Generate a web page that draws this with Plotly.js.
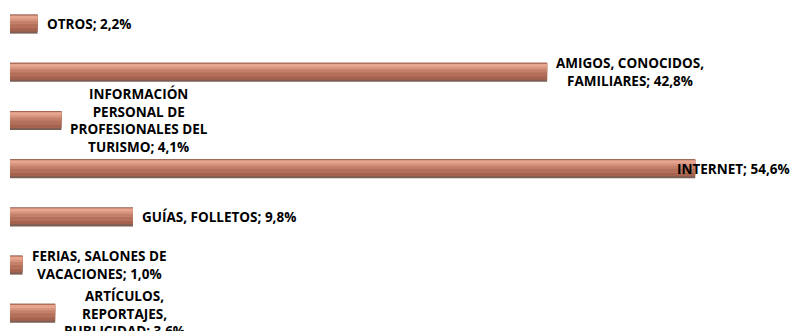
<!DOCTYPE html>
<html>
<head>
<meta charset="utf-8">
<script src="https://cdn.plot.ly/plotly-3.0.1.min.js"></script>
<style>html,body{margin:0;padding:0;background:#fff;}#chart{width:795px;height:331px;}</style>
</head>
<body>
<div id="chart"></div>
<script>
// Data (top to bottom)
const categories = [
  "OTROS",
  "AMIGOS, CONOCIDOS, FAMILIARES",
  "INFORMACIÓN PERSONAL DE PROFESIONALES DEL TURISMO",
  "INTERNET",
  "GUÍAS, FOLLETOS",
  "FERIAS, SALONES DE VACACIONES",
  "ARTÍCULOS, REPORTAJES, PUBLICIDAD"
];
const values = [2.2, 42.8, 4.1, 54.6, 9.8, 1.0, 3.6];
const labelLines = [
  ["OTROS; 2,2%"],
  ["AMIGOS, CONOCIDOS,", "FAMILIARES; 42,8%"],
  ["INFORMACIÓN", "PERSONAL DE", "PROFESIONALES DEL", "TURISMO; 4,1%"],
  ["INTERNET; 54,6%"],
  ["GUÍAS, FOLLETOS; 9,8%"],
  ["FERIAS, SALONES DE", "VACACIONES; 1,0%"],
  ["ARTÍCULOS,", "REPORTAJES,", "PUBLICIDAD; 3,6%"]
];

// Bevelled copper look: stacked overlay bands (fractions of bar thickness from top)
const H = 0.395;
const bands = [
  {from: 0.00, to: 1.00, color: "#7d5e55"},
  {from: 0.00, to: 0.89, color: "#a5634f"},
  {from: 0.04, to: 0.72, color: "#b5705b"},
  {from: 0.05, to: 0.50, color: "#c48069"},
  {from: 0.06, to: 0.34, color: "#d7937d"},
  {from: 0.07, to: 0.22, color: "#e6a58f"}
];
const traces = bands.map(b => ({
  type: "bar",
  orientation: "h",
  y: categories,
  x: values,
  offset: -H / 2 + b.from * H,
  width: (b.to - b.from) * H,
  marker: {color: b.color, line: {width: 0}},
  hoverinfo: "skip",
  showlegend: false
}));

const xMax = 62.55;
const annotations = categories.map((c, i) => {
  const nearEdge = values[i] > 0.8 * xMax;
  return {
    x: nearEdge ? 1 : values[i],
    xref: nearEdge ? "paper" : "x",
    y: c,
    yref: "y",
    text: labelLines[i].map(s => "<b>" + s + "</b>").join("<br>"),
    showarrow: false,
    xanchor: nearEdge ? "right" : "left",
    yanchor: "middle",
    align: "center",
    xshift: nearEdge ? -4 : 8,
    borderpad: 0,
    font: {family: "'Open Sans', 'Noto Sans', sans-serif", size: 13.5, color: "#000000"}
  };
});

const layout = {
  width: 795,
  height: 331,
  margin: {l: 10, r: 0, t: 0, b: 0, pad: 0},
  paper_bgcolor: "#ffffff",
  plot_bgcolor: "#ffffff",
  barmode: "overlay",
  showlegend: false,
  xaxis: {range: [0, xMax], visible: false, fixedrange: true},
  yaxis: {type: "category", categoryorder: "array", categoryarray: categories,
          range: [6.367, -0.5], visible: false, fixedrange: true},
  annotations: annotations
};

Plotly.newPlot("chart", traces, layout, {displayModeBar: false, staticPlot: true});
</script>
</body>
</html>
